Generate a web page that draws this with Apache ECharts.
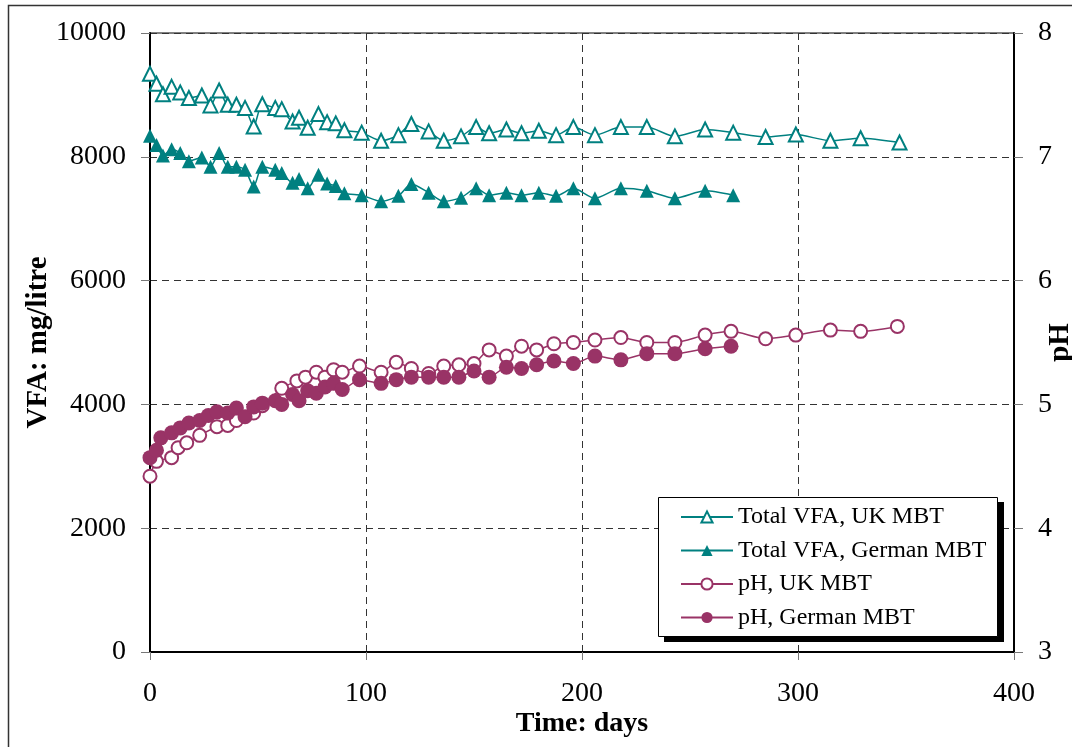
<!DOCTYPE html>
<html>
<head>
<meta charset="utf-8">
<script src="https://cdn.jsdelivr.net/npm/echarts@6/dist/echarts.min.js"></script>
<style>
  html, body { margin: 0; padding: 0; background: #fff; }
  #chart { width: 1072px; height: 747px; }
</style>
</head>
<body>
<div id="chart"></div>
<script>
// Sampling days (VFA series)
const vfaDays = [0, 3, 6, 10, 14, 18, 24, 28, 32, 36, 40, 44, 48, 52, 58, 61, 66, 69, 73, 78,
                 82, 86, 90, 98, 107, 115, 121, 129, 136, 144, 151, 157, 165, 172, 180, 188, 196, 206, 218, 230,
                 243, 257, 270, 285, 299, 315, 329, 347];
// Total VFA (mg/litre)
const vfaUK = [9340, 9180, 9010, 9130, 9040, 8950, 8990, 8830, 9070, 8840, 8840, 8790, 8490, 8850, 8790, 8770, 8570, 8630, 8470, 8690,
               8560, 8540, 8430, 8390, 8260, 8350, 8530, 8410, 8260, 8330, 8480, 8380, 8440, 8380, 8420, 8350, 8480, 8350, 8480, 8480,
               8330, 8440, 8390, 8320, 8360, 8260, 8300, 8230];
const vfaGerman = [8340, 8190, 8020, 8120, 8060, 7930, 7990, 7840, 8060, 7840, 7840, 7790, 7520, 7840, 7790, 7740, 7580, 7640, 7490, 7710,
                   7570, 7530, 7410, 7380, 7280, 7370, 7560, 7420, 7280, 7340, 7490, 7380, 7420, 7380, 7420, 7370, 7490, 7330, 7490, 7450,
                   7330, 7450, 7380];

// pH readings
const phDaysUK = [0, 3, 10, 13, 17, 23, 31, 36, 40, 48, 52, 61, 68, 72, 77, 81, 85, 89, 97, 107,
                  114, 121, 129, 136, 143, 150, 157, 165, 172, 179, 187, 196, 206, 218, 230, 243, 257, 269, 285, 299,
                  315, 329, 346];
const phUK = [4.42, 4.54, 4.57, 4.65, 4.69, 4.75, 4.82, 4.83, 4.87, 4.93, 4.99, 5.13, 5.19, 5.22, 5.26, 5.22, 5.28, 5.26, 5.31, 5.26,
              5.34, 5.29, 5.25, 5.31, 5.32, 5.33, 5.44, 5.39, 5.47, 5.44, 5.49, 5.50, 5.52, 5.54, 5.50, 5.50, 5.56, 5.59, 5.53, 5.56,
              5.60, 5.59, 5.63];
const phDaysGerman = [0, 3, 5, 10, 14, 18, 23, 27, 31, 36, 40, 44, 48, 52, 58, 61, 66, 69, 73, 77,
                      81, 85, 89, 97, 107, 114, 121, 129, 136, 143, 150, 157, 165, 172, 179, 187, 196, 206, 218, 230,
                      243, 257, 269];
const phGerman = [4.57, 4.63, 4.73, 4.77, 4.81, 4.85, 4.87, 4.91, 4.94, 4.93, 4.97, 4.90, 4.98, 5.01, 5.03, 5.00, 5.08, 5.03, 5.11, 5.09,
                  5.14, 5.17, 5.12, 5.20, 5.17, 5.20, 5.22, 5.22, 5.22, 5.22, 5.27, 5.22, 5.30, 5.29, 5.32, 5.35, 5.33, 5.39, 5.36, 5.41,
                  5.41, 5.45, 5.47];

const seriesNames = ['Total VFA, UK MBT', 'Total VFA, German MBT', 'pH, UK MBT', 'pH, German MBT'];

const TEAL = '#008080';
const PLUM = '#993366';
const SERIF = '"Liberation Serif", "Times New Roman", serif';

function pairs(xs, ys) {
  return ys.map((y, i) => [xs[i], y]);
}
const plain = v => String(v);

const chart = echarts.init(document.getElementById('chart'));

const dashed = { type: [7, 5], color: '#333', width: 1 };

chart.setOption({
  animation: false,
  backgroundColor: '#fff',
  textStyle: { fontFamily: SERIF },
  graphic: [
    // outer chart frame
    {
      type: 'rect',
      shape: { x: 8.5, y: 5.5, width: 1100, height: 800 },
      style: { fill: 'none', stroke: '#333', lineWidth: 1.5 },
      silent: true, z: -10
    },
    // legend box with solid drop shadow
    {
      type: 'rect',
      shape: { x: 664, y: 502, width: 340, height: 140 },
      style: { fill: '#000' },
      silent: true, z: 1
    },
    {
      type: 'rect',
      shape: { x: 658.5, y: 497.5, width: 339, height: 139 },
      style: { fill: '#fff', stroke: '#000', lineWidth: 1 },
      silent: true, z: 2
    }
  ],
  grid: {
    left: 150, top: 33, right: 58, bottom: 95,
    outerBoundsMode: 'none',
    show: true, borderColor: '#000', borderWidth: 1, backgroundColor: 'transparent'
  },
  legend: {
    orient: 'vertical',
    left: 658, top: 497,
    padding: [8, 12, 7, 22],
    itemWidth: 52, itemHeight: 14, itemGap: 9.5,
    z: 10,
    textStyle: { fontFamily: SERIF, fontSize: 24, color: '#000', lineHeight: 24 },
    data: seriesNames
  },
  xAxis: {
    type: 'value', min: 0, max: 400, interval: 100,
    name: 'Time: days', nameLocation: 'middle', nameGap: 58, nameMoveOverlap: false,
    nameTextStyle: { fontFamily: SERIF, fontSize: 28, fontWeight: 'bold', color: '#000' },
    axisLine: { show: true, onZero: false, lineStyle: { color: '#000', width: 2 } },
    axisTick: { show: true, length: 8, lineStyle: { color: '#777' } },
    axisLabel: { fontFamily: SERIF, fontSize: 28, color: '#000', margin: 28, formatter: plain },
    splitLine: { show: true, lineStyle: dashed }
  },
  yAxis: [{
    type: 'value', min: 0, max: 10000, interval: 2000,
    name: 'VFA: mg/litre', nameLocation: 'middle', nameGap: 97, nameRotate: 90, nameMoveOverlap: false,
    nameTextStyle: { fontFamily: SERIF, fontSize: 29, fontWeight: 'bold', color: '#000' },
    axisLine: { show: true, onZero: false, lineStyle: { color: '#000', width: 2 } },
    axisTick: { show: true, length: 9, lineStyle: { color: '#777' } },
    axisLabel: { fontFamily: SERIF, fontSize: 28, color: '#000', margin: 24, formatter: plain },
    splitLine: { show: true, lineStyle: dashed }
  }, {
    type: 'value', min: 3, max: 8, interval: 1, position: 'right',
    name: 'pH', nameLocation: 'middle', nameGap: 32, nameRotate: 90, nameMoveOverlap: false,
    nameTextStyle: { fontFamily: SERIF, fontSize: 29, fontWeight: 'bold', color: '#000' },
    axisLine: { show: true, onZero: false, lineStyle: { color: '#000', width: 2 } },
    axisTick: { show: true, length: 9, lineStyle: { color: '#777' } },
    axisLabel: { fontFamily: SERIF, fontSize: 28, color: '#000', margin: 24, formatter: plain },
    splitLine: { show: false }
  }],
  series: [{
    name: seriesNames[0], type: 'line', yAxisIndex: 0,
    data: pairs(vfaDays, vfaUK),
    smooth: 0.25,
    symbol: 'emptyTriangle', symbolSize: 14,
    color: TEAL,
    lineStyle: { color: TEAL, width: 1.5 },
    itemStyle: { color: TEAL, borderColor: TEAL, borderWidth: 2 }
  }, {
    name: seriesNames[1], type: 'line', yAxisIndex: 0,
    data: pairs(vfaDays.slice(0, vfaGerman.length), vfaGerman),
    smooth: 0.25,
    symbol: 'triangle', symbolSize: 14,
    color: TEAL,
    lineStyle: { color: TEAL, width: 1.5 },
    itemStyle: { color: TEAL }
  }, {
    name: seriesNames[2], type: 'line', yAxisIndex: 1,
    data: pairs(phDaysUK, phUK),
    smooth: 0.25,
    symbol: 'emptyCircle', symbolSize: 13,
    color: PLUM,
    lineStyle: { color: PLUM, width: 1.5 },
    itemStyle: { color: PLUM, borderColor: PLUM, borderWidth: 2 }
  }, {
    name: seriesNames[3], type: 'line', yAxisIndex: 1,
    data: pairs(phDaysGerman, phGerman),
    smooth: 0.25,
    symbol: 'circle', symbolSize: 15,
    color: PLUM,
    lineStyle: { color: PLUM, width: 1.5 },
    itemStyle: { color: PLUM }
  }]
});
</script>
</body>
</html>
